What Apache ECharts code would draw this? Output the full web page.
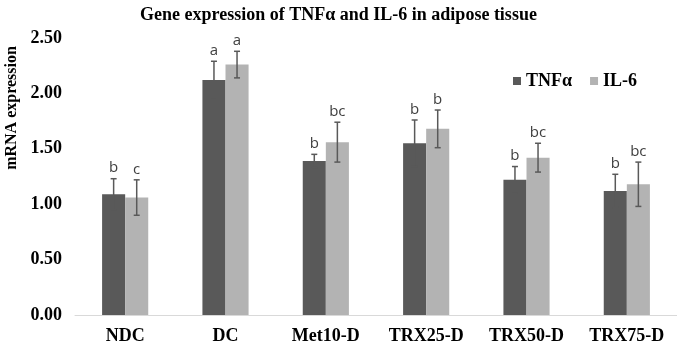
<!DOCTYPE html>
<html>
<head>
<meta charset="utf-8">
<script src="https://cdn.jsdelivr.net/npm/echarts@6/dist/echarts.min.js"></script>
<style>
  html, body { margin: 0; padding: 0; background: #fff; }
  #chart { width: 677px; height: 350px; }
</style>
</head>
<body>
<div id="chart"></div>
<script>
var groups = ['NDC', 'DC', 'Met10-D', 'TRX25-D', 'TRX50-D', 'TRX75-D'];
var tnfMean = [1.09, 2.12, 1.39, 1.55, 1.22, 1.12];
var tnfErr = [0.14, 0.17, 0.06, 0.21, 0.12, 0.15];
var tnfLetters = ['b', 'a', 'b', 'b', 'b', 'b'];
var il6Mean = [1.06, 2.26, 1.56, 1.68, 1.42, 1.18];
var il6Err = [0.16, 0.12, 0.18, 0.17, 0.13, 0.20];
var il6Letters = ['c', 'a', 'bc', 'b', 'bc', 'bc'];

var DARK = '#595959';
var LIGHT = '#b3b3b3';
var SERIF = '"Liberation Serif", "Times New Roman", serif';

var chart = echarts.init(document.getElementById('chart'));

// error bar + significance letter, shifted left (-1) or right (+1) of the category center
function errorSeries(means, errs, letters, side) {
    return {
        type: 'custom',
        z: 10,
        data: means.map(function (m, i) { return [i, m, errs[i]]; }),
        renderItem: function (params, api) {
            var band = api.size([1, 0])[0];
            var off = side * band * 0.115;
            var top = api.coord([api.value(0), api.value(1) + api.value(2)]);
            var bot = api.coord([api.value(0), api.value(1) - api.value(2)]);
            var x = top[0] + off;
            var cap = 3;
            var st = { stroke: '#595959', lineWidth: 1.5 };
            return {
                type: 'group',
                children: [
                    { type: 'line', shape: { x1: x, y1: top[1], x2: x, y2: bot[1] }, style: st },
                    { type: 'line', shape: { x1: x - cap, y1: top[1], x2: x + cap, y2: top[1] }, style: st },
                    { type: 'line', shape: { x1: x - cap, y1: bot[1], x2: x + cap, y2: bot[1] }, style: st },
                    {
                        type: 'text',
                        style: {
                            x: x, y: top[1] - 3,
                            text: letters[params.dataIndex],
                            align: 'center', verticalAlign: 'bottom',
                            font: '15px "Open Sans", sans-serif',
                            fill: '#404040'
                        }
                    }
                ]
            };
        },
        silent: true,
        tooltip: { show: false }
    };
}

chart.setOption({
    animation: false,
    title: {
        text: 'Gene expression of TNFα and IL-6 in adipose tissue',
        left: 'center',
        top: 1,
        textStyle: { fontFamily: SERIF, fontWeight: 'bold', fontSize: 18, color: '#000' }
    },
    legend: {
        data: ['TNFα', 'IL-6'],
        left: 508,
        top: 67,
        icon: 'rect',
        itemWidth: 8,
        itemHeight: 8,
        itemGap: 18,
        textStyle: { fontFamily: SERIF, fontWeight: 'bold', fontSize: 18, color: '#000' }
    },
    graphic: [{
        type: 'text',
        x: 12,
        y: 108,
        rotation: Math.PI / 2,
        style: {
            text: 'mRNA expression',
            align: 'center',
            verticalAlign: 'middle',
            font: 'bold 16px "Liberation Serif", serif',
            fill: '#000'
        }
    }],
    grid: { left: 75, right: 0, top: 38, bottom: 35 },
    xAxis: {
        type: 'category',
        data: groups,
        axisTick: { show: false },
        axisLine: { lineStyle: { color: '#d9d9d9' } },
        axisLabel: { margin: 12, fontFamily: SERIF, fontWeight: 'bold', fontSize: 18, color: '#000' }
    },
    yAxis: {
        type: 'value',
        min: 0,
        max: 2.5,
        interval: 0.5,
        splitLine: { show: false },
        axisLine: { show: false },
        axisTick: { show: false },
        axisLabel: {
            margin: 13,
            fontFamily: SERIF, fontWeight: 'bold', fontSize: 18, color: '#000',
            formatter: function (v) { return v.toFixed(2); }
        }
    },
    series: [
        {
            name: 'TNFα', type: 'bar', data: tnfMean,
            barGap: '0%', barCategoryGap: '54%',
            itemStyle: { color: DARK }
        },
        {
            name: 'IL-6', type: 'bar', data: il6Mean,
            itemStyle: { color: LIGHT }
        },
        errorSeries(tnfMean, tnfErr, tnfLetters, -1),
        errorSeries(il6Mean, il6Err, il6Letters, 1)
    ]
});
</script>
</body>
</html>
